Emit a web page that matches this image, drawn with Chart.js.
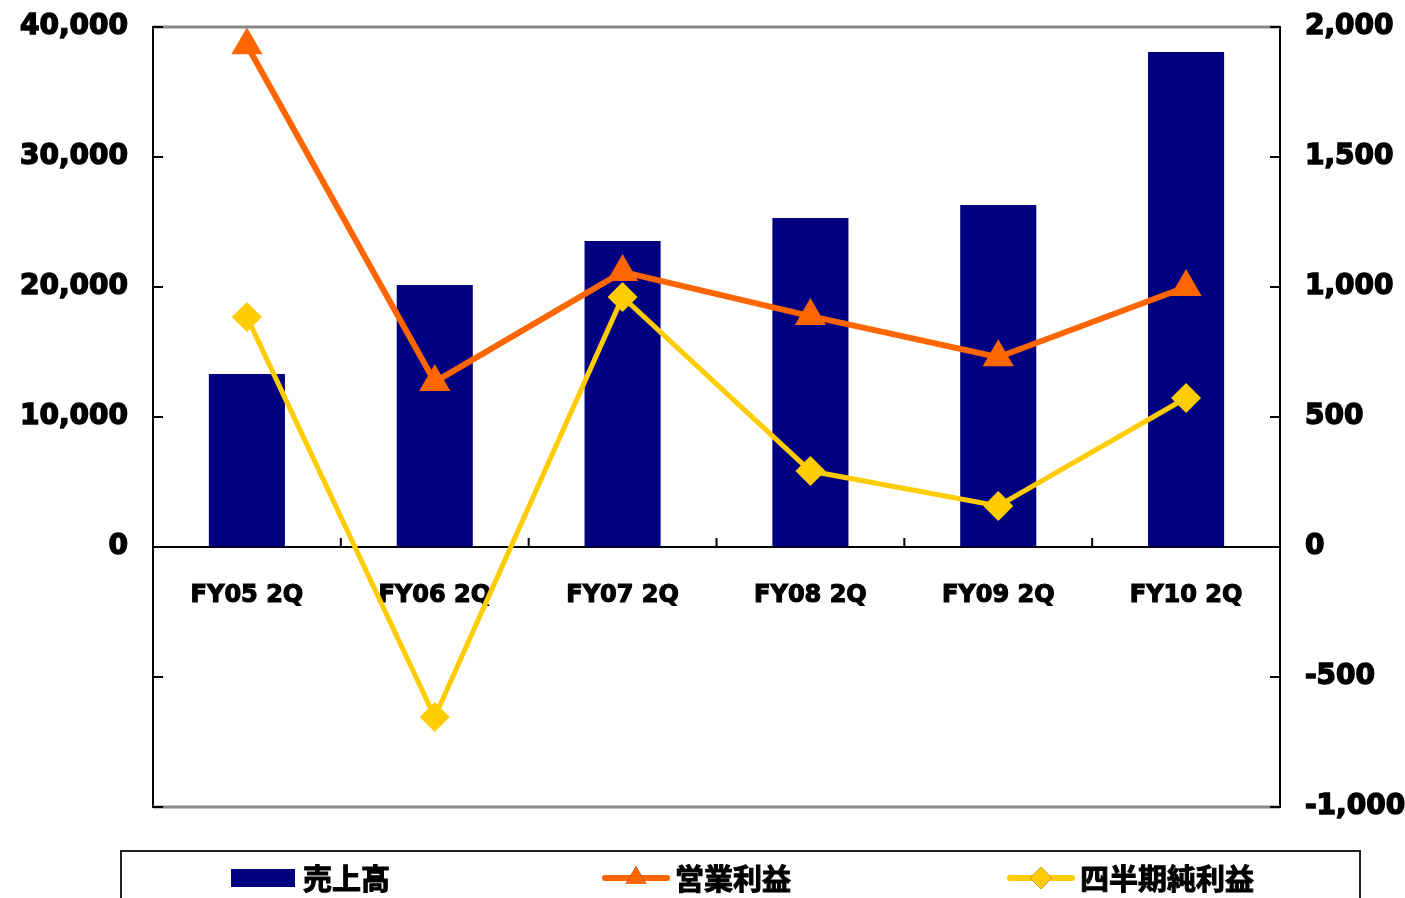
<!DOCTYPE html>
<html>
<head>
<meta charset="utf-8">
<script src="https://cdn.jsdelivr.net/npm/chart.js"></script>
<style>
  html, body { margin: 0; padding: 0; background: #fff; }
  #wrap { width: 1405px; height: 898px; }
</style>
</head>
<body>
<div id="wrap"><canvas id="chart" width="1405" height="898"></canvas></div>
<script>
// 四半期ごとの値（左軸：売上高、右軸：利益）
const categories = ['FY05 2Q', 'FY06 2Q', 'FY07 2Q', 'FY08 2Q', 'FY09 2Q', 'FY10 2Q'];
const sales = [13300, 20150, 23540, 25300, 26300, 38080];
const operatingProfit = [1930, 635, 1058, 888, 730, 1000];
const netProfit = [885, -654, 962, 292, 158, 573];
const leftTicks = { min: -20000, max: 40000, step: 10000 };
const rightTicks = { min: -1000, max: 2000, step: 500 };

const NAVY = '#000080', ORANGE = '#FF6600', YELLOW = '#FFCC00';
const tickFont = { family: 'DejaVu Sans', size: 28, weight: 'bold' };

// 枠線（上下のグレー線）と内向きの目盛り
const frameLines = {
    id: 'frameLines',
    beforeDatasetsDraw(chart) {
        const { ctx, chartArea: a, scales } = chart;
        ctx.save();
        ctx.strokeStyle = '#888';
        ctx.lineWidth = 3;
        ctx.beginPath();
        ctx.moveTo(a.left, a.top); ctx.lineTo(a.right, a.top);
        ctx.moveTo(a.left, a.bottom); ctx.lineTo(a.right, a.bottom);
        ctx.stroke();

        ctx.strokeStyle = '#000';
        ctx.lineWidth = 2;
        ctx.beginPath();
        scales.y.ticks.forEach(t => {
            const py = scales.y.getPixelForValue(t.value);
            ctx.moveTo(a.left, py); ctx.lineTo(a.left + 10, py);
        });
        scales.y1.ticks.forEach(t => {
            const py = scales.y1.getPixelForValue(t.value);
            ctx.moveTo(a.right, py); ctx.lineTo(a.right - 10, py);
        });
        const zero = scales.y.getPixelForValue(0);
        for (let i = 1; i < categories.length; i++) {
            const px = (scales.x.getPixelForValue(i - 1) + scales.x.getPixelForValue(i)) / 2;
            ctx.moveTo(px, zero); ctx.lineTo(px, zero - 9);
        }
        ctx.stroke();
        ctx.restore();
    }
};

// 凡例（枠付き、下部）
const boxLegend = {
    id: 'boxLegend',
    afterDraw(chart) {
        const { ctx } = chart;
        const ds = chart.data.datasets;
        const xs = [231, 603, 1008];
        const y = 878;
        ctx.save();
        ctx.strokeStyle = '#222';
        ctx.lineWidth = 2;
        ctx.strokeRect(121, 851, 1239, 60);
        ctx.font = 'bold 29px "Noto Sans CJK JP"';
        ctx.textBaseline = 'middle';
        ds.forEach((d, i) => {
            const x = xs[i];
            if (d.type === 'bar') {
                ctx.fillStyle = d.backgroundColor;
                ctx.fillRect(x, y - 9, 64, 18);
            } else {
                ctx.strokeStyle = d.borderColor;
                ctx.lineWidth = 6;
                ctx.lineCap = 'round';
                ctx.beginPath(); ctx.moveTo(x + 2, y); ctx.lineTo(x + 64, y); ctx.stroke();
                Chart.helpers.drawPoint(ctx, {
                    pointStyle: d.pointStyle, radius: d.legendRadius, rotation: 0, borderWidth: 0
                }, x + 33, y);
                ctx.fillStyle = d.backgroundColor;
                ctx.fill();
            }
            ctx.fillStyle = '#000';
            ctx.strokeStyle = '#000';
            ctx.lineWidth = 1;
            ctx.fillText(d.label, x + 72, y + 1);
            ctx.strokeText(d.label, x + 72, y + 1);
        });
        ctx.restore();
    }
};

const fmt = v => Number(v).toLocaleString('en-US');
const noOverhang = s => { s.paddingTop = 0; s.paddingBottom = 0; s.paddingLeft = 0; s.paddingRight = 0; };

new Chart(document.getElementById('chart').getContext('2d'), {
    data: {
        labels: categories,
        datasets: [
            {
                type: 'bar', label: '売上高', data: sales, yAxisID: 'y', order: 2,
                backgroundColor: NAVY, categoryPercentage: 1, barPercentage: 0.405
            },
            {
                type: 'line', label: '営業利益', data: operatingProfit, yAxisID: 'y1', order: 1,
                borderColor: ORANGE, backgroundColor: ORANGE, borderWidth: 6,
                pointStyle: 'triangle', pointRadius: 18, pointBorderWidth: 0, legendRadius: 12,
                tension: 0
            },
            {
                type: 'line', label: '四半期純利益', data: netProfit, yAxisID: 'y1', order: 0,
                borderColor: YELLOW, backgroundColor: YELLOW, borderWidth: 5,
                pointStyle: 'rectRot', pointRadius: 15, pointBorderWidth: 0, legendRadius: 11,
                tension: 0
            }
        ]
    },
    options: {
        responsive: false,
        animation: false,
        events: [],
        layout: { padding: { left: 0, right: 0, top: 27, bottom: 91 } },
        plugins: { legend: { display: false }, tooltip: { enabled: false } },
        scales: {
            x: {
                type: 'category',
                position: { y: 0 },
                offset: true,
                z: 1,
                afterFit: noOverhang,
                grid: { offset: true, drawOnChartArea: false, drawTicks: false },
                border: { display: true, color: '#000', width: 2 },
                ticks: {
                    color: '#000', font: { family: 'DejaVu Sans', size: 24, weight: 'bold' },
                    textStrokeColor: '#000', textStrokeWidth: 1.2, padding: 34, maxRotation: 0
                }
            },
            y: {
                position: 'left',
                min: leftTicks.min, max: leftTicks.max,
                afterFit: s => { s.width = 153; noOverhang(s); },
                grid: { drawOnChartArea: false, drawTicks: false },
                border: { display: true, color: '#000', width: 2 },
                ticks: {
                    stepSize: leftTicks.step, color: '#000', font: tickFont, padding: 25,
                    textStrokeColor: '#000', textStrokeWidth: 1.5,
                    callback: v => v < 0 ? '' : fmt(v)
                }
            },
            y1: {
                position: 'right',
                min: rightTicks.min, max: rightTicks.max,
                afterFit: s => { s.width = 125; noOverhang(s); },
                grid: { drawOnChartArea: false, drawTicks: false },
                border: { display: true, color: '#000', width: 2 },
                ticks: {
                    stepSize: rightTicks.step, color: '#000', font: tickFont, padding: 25,
                    textStrokeColor: '#000', textStrokeWidth: 1.5, callback: fmt
                }
            }
        }
    },
    plugins: [frameLines, boxLegend]
});
</script>
</body>
</html>
